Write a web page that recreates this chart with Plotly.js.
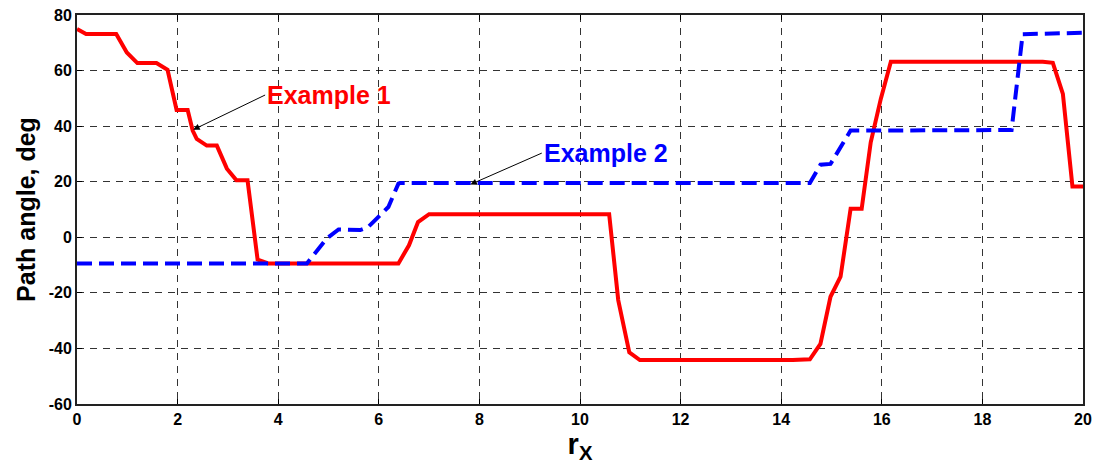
<!DOCTYPE html>
<html>
<head>
<meta charset="utf-8">
<script src="https://cdn.plot.ly/plotly-3.0.1.min.js"></script>
<style>html,body{margin:0;padding:0;background:#fff;}#chart{width:1095px;height:470px;}</style>
</head>
<body>
<div id="chart"></div>
<script>
// Example 1 (red solid)
const ex1X = [0, 0.18, 0.78, 0.99, 1.2, 1.58, 1.8, 1.98, 2.2, 2.3, 2.38, 2.58, 2.78, 2.98, 3.17, 3.39, 3.59, 3.8, 6.39, 6.6, 6.78, 7.0, 10.58, 10.76, 10.98, 11.19, 14.23, 14.57, 14.78, 14.98, 15.18, 15.38, 15.6, 15.78, 15.98, 16.18, 19.2, 19.4, 19.6, 19.79, 20];
const ex1Y = [75, 73.2, 73.2, 66.5, 62.7, 62.7, 60.3, 45.8, 45.8, 38.4, 35.4, 33, 33, 24.7, 20.5, 20.5, -8.0, -9.4, -9.4, -2.9, 5.5, 8.3, 8.3, -22.6, -41.4, -44.2, -44.2, -43.9, -38.4, -21.4, -14.2, 10.3, 10.3, 34.2, 49.8, 63.2, 63.2, 62.8, 51.6, 18.3, 18.3];
// Example 2 (blue dashed)
const ex2X = [0, 4.57, 4.96, 5.2, 5.63, 5.79, 6.19, 6.39, 6.42, 14.57, 14.78, 14.98, 15.38, 18.58, 18.8, 20];
const ex2Y = [-9.4, -9.4, -0.5, 2.8, 2.6, 3.7, 10.9, 19.3, 19.5, 19.5, 26.1, 26.4, 38.4, 38.6, 73.1, 73.6];
const xTicks = [0, 2, 4, 6, 8, 10, 12, 14, 16, 18, 20];
const yTicks = [-60, -40, -20, 0, 20, 40, 60, 80];
const labels = ["Example 1", "Example 2"];

const FONT = 'Liberation Sans, Arial, Helvetica, sans-serif';

const traces = [
  {x: ex1X, y: ex1Y, mode: 'lines', line: {color: '#ff0000', width: 4}, name: labels[0]},
  {x: ex2X, y: ex2Y, mode: 'lines', line: {color: '#0000ff', width: 4, dash: '15px,7px'}, name: labels[1]}
];

const tickFont = {family: FONT, size: 16, color: '#000', weight: 'bold'};
const axisCommon = {
  showgrid: true, gridcolor: 'rgba(0,0,0,0.8)', gridwidth: 1, griddash: '7px,6px',
  showline: true, linecolor: '#222', linewidth: 2, mirror: 'ticks',
  ticks: 'inside', ticklen: 5, tickcolor: '#000', tickfont: tickFont,
  zeroline: false
};

const layout = {
  width: 1095, height: 470,
  margin: {l: 77, r: 12, t: 15, b: 66},
  paper_bgcolor: '#fff', plot_bgcolor: '#fff',
  showlegend: false,
  xaxis: Object.assign({}, axisCommon, {
    range: [0, 20], tickvals: xTicks, ticktext: xTicks.map(String),
    title: {text: 'r<sub>X</sub>', font: {family: FONT, size: 29, color: '#000', weight: 'bold'}, standoff: 6}
  }),
  yaxis: Object.assign({}, axisCommon, {
    range: [-60, 80], tickvals: yTicks, ticktext: yTicks.map(String),
    title: {text: 'Path angle, deg', font: {family: FONT, size: 25, color: '#000', weight: 'bold'}, standoff: 6}
  }),
  annotations: [
    {x: 2.31, y: 38.7, xref: 'x', yref: 'y', ax: 3.74, ay: 51.2, axref: 'x', ayref: 'y',
     text: labels[0], showarrow: true, arrowhead: 2, arrowsize: 1.3, arrowwidth: 1, arrowcolor: '#000',
     xanchor: 'left', font: {family: FONT, size: 25, color: '#ff0000', weight: 'bold'}},
    {x: 7.82, y: 19.0, xref: 'x', yref: 'y', ax: 9.24, ay: 30.3, axref: 'x', ayref: 'y',
     text: labels[1], showarrow: true, arrowhead: 2, arrowsize: 1.3, arrowwidth: 1, arrowcolor: '#000',
     xanchor: 'left', font: {family: FONT, size: 25, color: '#0000ff', weight: 'bold'}}
  ]
};

Plotly.newPlot('chart', traces, layout, {displayModeBar: false, staticPlot: true});
</script>
</body>
</html>
